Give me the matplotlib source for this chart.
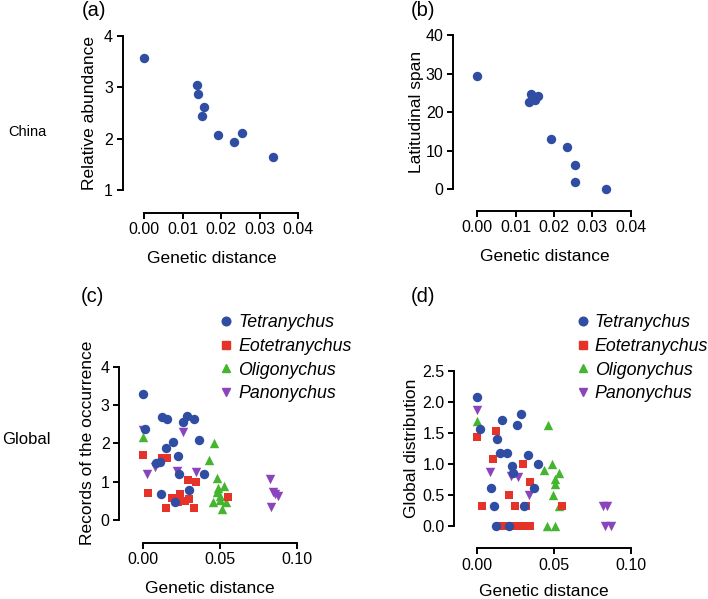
import matplotlib
matplotlib.use("Agg")
import matplotlib.pyplot as plt
from matplotlib.lines import Line2D

plt.rcParams['font.family'] = ['Liberation Sans', 'DejaVu Sans']

# ---------------- data ----------------
# (a) China: relative abundance vs genetic distance
a_x = [0.0, 0.0137, 0.0140, 0.0157, 0.0150, 0.0191, 0.0234, 0.0255, 0.0334]
a_y = [3.57, 3.05, 2.87, 2.62, 2.45, 2.07, 1.94, 2.11, 1.65]

# (b) China: latitudinal span vs genetic distance
b_x = [0.0, 0.0140, 0.0136, 0.0150, 0.0157, 0.0193, 0.0235, 0.0255, 0.0255, 0.0336]
b_y = [29.4, 24.6, 22.5, 23.1, 24.1, 13.0, 10.8, 6.2, 1.9, 0.0]

# (c) Global: records of the occurrence
c_tet_x = [0.0, 0.0017, 0.0128, 0.0160, 0.0264, 0.0290, 0.0333, 0.0195, 0.0150,
           0.0232, 0.0368, 0.0089, 0.0110, 0.0237, 0.0398, 0.0119, 0.0298, 0.0211]
c_tet_y = [3.29, 2.38, 2.68, 2.63, 2.57, 2.72, 2.63, 2.04, 1.88,
           1.66, 2.09, 1.48, 1.52, 1.21, 1.20, 0.69, 0.78, 0.47]
c_eot_x = [0.0, 0.0037, 0.0125, 0.0158, 0.0297, 0.0346, 0.0149, 0.0188, 0.0228,
           0.0245, 0.0272, 0.0302, 0.0335, 0.0556]
c_eot_y = [1.70, 0.70, 1.62, 1.62, 1.04, 1.00, 0.32, 0.58, 0.48,
           0.68, 0.50, 0.55, 0.32, 0.60]
c_oli_x = [0.0, 0.0465, 0.0430, 0.0485, 0.0487, 0.0530, 0.0485, 0.0502, 0.0455,
           0.0513, 0.0540, 0.0505]
c_oli_y = [2.16, 2.00, 1.57, 1.10, 0.83, 0.88, 0.74, 0.52, 0.47,
           0.28, 0.47, 0.63]
c_pan_x = [0.0, 0.0264, 0.0026, 0.0077, 0.0220, 0.0345, 0.0825, 0.0845, 0.0862,
           0.0880, 0.0830]
c_pan_y = [2.35, 2.29, 1.19, 1.38, 1.28, 1.26, 1.06, 0.74, 0.68,
           0.63, 0.35]

# (d) Global: global distribution
d_tet_x = [0.0004, 0.0022, 0.0162, 0.0286, 0.0264, 0.0134, 0.0151, 0.0200, 0.0331,
           0.0398, 0.0231, 0.0238, 0.0093, 0.0372, 0.0114, 0.0305, 0.0125, 0.0211]
d_tet_y = [2.08, 1.56, 1.71, 1.80, 1.63, 1.39, 1.17, 1.17, 1.14,
           1.00, 0.96, 0.85, 0.61, 0.61, 0.31, 0.31, 0.0, 0.0]
d_eot_x = [0.0, 0.0126, 0.0104, 0.0298, 0.0344, 0.0211, 0.0036, 0.0249, 0.0317,
           0.0557, 0.0142, 0.0175, 0.0215, 0.0258, 0.0300, 0.0345]
d_eot_y = [1.43, 1.53, 1.08, 0.99, 0.70, 0.49, 0.31, 0.31, 0.31,
           0.31, 0.0, 0.0, 0.0, 0.0, 0.0, 0.0]
d_oli_x = [0.0, 0.0465, 0.0440, 0.0489, 0.0533, 0.0508, 0.0508, 0.0495, 0.0535,
           0.0455, 0.0510]
d_oli_y = [1.68, 1.62, 0.90, 0.99, 0.84, 0.75, 0.67, 0.49, 0.31,
           0.0, 0.0]
d_pan_x = [0.0, 0.0087, 0.0225, 0.0270, 0.0342, 0.0822, 0.0848, 0.0833, 0.0875]
d_pan_y = [1.86, 0.87, 0.80, 0.79, 0.50, 0.31, 0.31, 0.0, 0.0]

genera = ['Tetranychus', 'Eotetranychus', 'Oligonychus', 'Panonychus']
colors = ['#2F4DA3', '#E5332A', '#45B42E', '#8A44BC']
markers = ['o', 's', '^', 'v']
sizes = [46, 38, 46, 46]
zorders = [6, 5, 4, 3]

xticks_china = [0.00, 0.01, 0.02, 0.03, 0.04]
xticks_global = [0.00, 0.05, 0.10]
yticks_a = [1, 2, 3, 4]
yticks_b = [0, 10, 20, 30, 40]
yticks_c = [0, 1, 2, 3, 4]
yticks_d = [0.0, 0.5, 1.0, 1.5, 2.0, 2.5]

# ---------------- layout ----------------
W, H = 708, 599
fig = plt.figure(figsize=(W / 100, H / 100), dpi=100)

TICK_FS = 11.5
LABEL_FS = 12.5
LEG_FS = 12.8
LW = 1.4


def make_ax(yaxis_x, xaxis_y, xp0, xp1, xt, yp0, yp1, yt, xfmt, yfmt):
    xv0, xv1 = xt[0], xt[-1]
    yv0, yv1 = yt[0], yt[-1]
    sx = (xp1 - xp0) / (xv1 - xv0)
    sy = (yp0 - yp1) / (yv1 - yv0)
    left, right, top, bottom = yaxis_x, xp1, yp1, xaxis_y
    xlo = xv0 - (xp0 - left) / sx
    ylo = yv0 - (bottom - yp0) / sy
    ax = fig.add_axes([left / W, 1 - bottom / H, (right - left) / W, (bottom - top) / H])
    ax.set_xlim(xlo, xv1)
    ax.set_ylim(ylo, yv1)
    for s in ['top', 'right']:
        ax.spines[s].set_visible(False)
    ax.spines['left'].set_bounds(yv0, yv1)
    ax.spines['bottom'].set_bounds(xv0, xv1)
    for s in ['left', 'bottom']:
        ax.spines[s].set_linewidth(LW)
    ax.set_xticks(xt)
    ax.set_yticks(yt)
    ax.set_xticklabels([xfmt.format(v) for v in xt])
    ax.set_yticklabels([yfmt.format(v) for v in yt])
    ax.tick_params(direction='out', length=4, width=LW, labelsize=TICK_FS, pad=3,
                   colors='black')
    ax.patch.set_alpha(0)
    return ax


def ftext(x, y, s, **kw):
    fig.text(x / W, 1 - y / H, s, ha='center', va='center', **kw)


ax_a = make_ax(122.7, 212.7, 144.0, 298.0, xticks_china, 190.0, 36.0, yticks_a, '{:.2f}', '{:d}')
ax_b = make_ax(453.3, 210.7, 477.3, 630.7, xticks_china, 189.0, 35.0, yticks_b, '{:.2f}', '{:d}')
ax_c = make_ax(119.3, 542.7, 142.7, 296.7, xticks_global, 520.0, 366.7, yticks_c, '{:.2f}', '{:d}')
ax_d = make_ax(454.5, 548.3, 476.7, 630.7, xticks_global, 525.5, 370.7, yticks_d, '{:.2f}', '{:.1f}')

ax_a.scatter(a_x, a_y, s=sizes[0], c=colors[0], marker='o', linewidths=0, clip_on=False)
ax_b.scatter(b_x, b_y, s=sizes[0], c=colors[0], marker='o', linewidths=0, clip_on=False)

c_data = [(c_tet_x, c_tet_y), (c_eot_x, c_eot_y), (c_oli_x, c_oli_y), (c_pan_x, c_pan_y)]
d_data = [(d_tet_x, d_tet_y), (d_eot_x, d_eot_y), (d_oli_x, d_oli_y), (d_pan_x, d_pan_y)]

for ax, data in [(ax_c, c_data), (ax_d, d_data)]:
    for (xs, ys), col, mk, sz, zo in zip(data, colors, markers, sizes, zorders):
        ax.scatter(xs, ys, s=sz, c=col, marker=mk, linewidths=0, zorder=zo, clip_on=False)

# legends
handles = [Line2D([], [], linestyle='none', marker=mk, color=col, markersize=ms)
           for mk, col, ms in zip(markers, colors, [6.2, 5.2, 6.2, 6.2])]
fs_px = LEG_FS * 100 / 72
HL = 0.8
for ax, mx in [(ax_c, 226.0), (ax_d, 582.7)]:
    ax.legend(handles, genera, loc='upper left',
              bbox_to_anchor=((mx - HL * fs_px / 2) / W, 1 - 314 / H),
              bbox_transform=fig.transFigure, frameon=False, borderpad=0,
              borderaxespad=0, handlelength=HL, handletextpad=0.28,
              labelspacing=0.38, prop={'style': 'italic', 'size': LEG_FS})

# axis labels
ftext(211.7, 258.3, 'Genetic distance', fontsize=LABEL_FS)
ftext(544.7, 256.7, 'Genetic distance', fontsize=LABEL_FS)
ftext(210.3, 588.3, 'Genetic distance', fontsize=LABEL_FS)
ftext(543.7, 591.7, 'Genetic distance', fontsize=LABEL_FS)

ftext(90, 113, 'Relative abundance', fontsize=LABEL_FS, rotation=90)
ftext(416, 112, 'Latitudinal span', fontsize=LABEL_FS, rotation=90)
ftext(87, 443, 'Records of the occurrence', fontsize=LABEL_FS, rotation=90)
ftext(411, 448, 'Global distribution', fontsize=LABEL_FS, rotation=90)

# panel letters
ftext(94, 11, '(a)', fontsize=14.5)
ftext(423, 11, '(b)', fontsize=14.5)
ftext(92, 297, '(c)', fontsize=14.5)
ftext(423, 297, '(d)', fontsize=14.5)

# row labels
ftext(27, 132, 'China', fontsize=10.5)
ftext(26, 440, 'Global', fontsize=12)

fig.savefig('out.png', dpi=100)
